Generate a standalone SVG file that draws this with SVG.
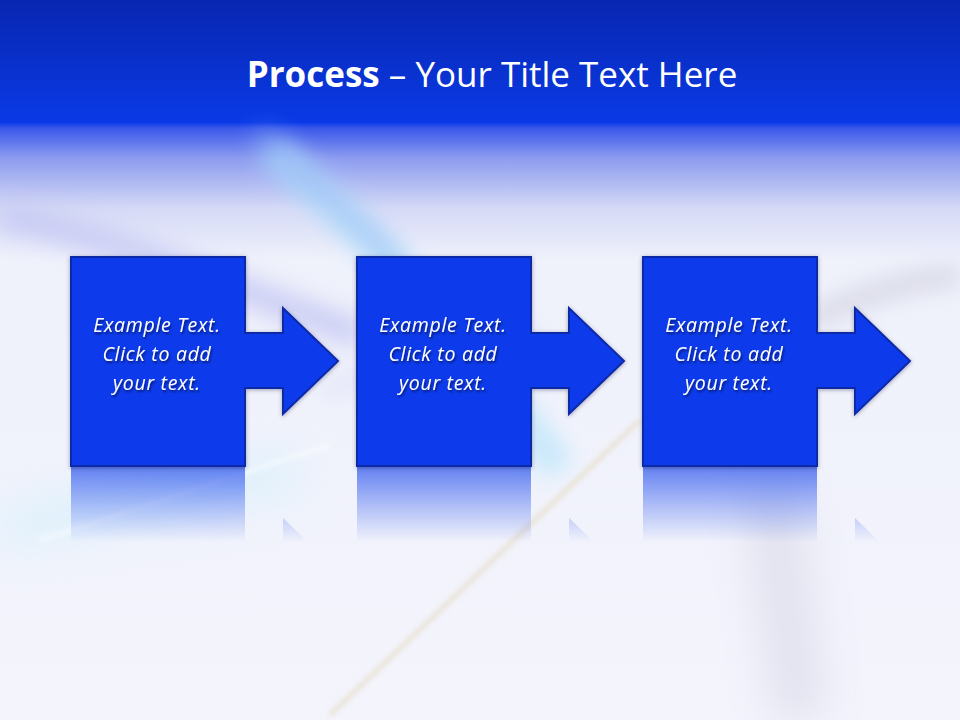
<svg xmlns="http://www.w3.org/2000/svg" width="960" height="720" viewBox="0 0 960 720">
<defs>
<style>
.title{font-family:"Open Sans","Liberation Sans",sans-serif;font-size:35px;fill:#ffffff}
.lbl{font-family:"Open Sans","Liberation Sans",sans-serif;font-size:19.5px;letter-spacing:0.7px;font-style:italic;fill:#ffffff;text-anchor:middle;filter:url(#tsh)}
.shape{fill:#0a3aec;stroke:#0a2aa6;stroke-width:2;stroke-linejoin:miter}
.refl{fill:#0a3aec}
</style>
<linearGradient id="bg" x1="0" y1="0" x2="0" y2="1">
<stop offset="0" stop-color="#0826b0"/>
<stop offset="0.17" stop-color="#0a3ae6"/>
<stop offset="0.178" stop-color="#3a58ea"/>
<stop offset="0.22" stop-color="#8d9cef"/>
<stop offset="0.29" stop-color="#d6daf6"/>
<stop offset="0.36" stop-color="#eff1fb"/>
<stop offset="1" stop-color="#f3f4fc"/>
</linearGradient>
<filter id="blur20" filterUnits="userSpaceOnUse" x="-100" y="-100" width="1160" height="920"><feGaussianBlur stdDeviation="22"/></filter>
<filter id="blur10" filterUnits="userSpaceOnUse" x="-100" y="-100" width="1160" height="920"><feGaussianBlur stdDeviation="11"/></filter>
<filter id="blur3" filterUnits="userSpaceOnUse" x="-100" y="-100" width="1160" height="920"><feGaussianBlur stdDeviation="2.5"/></filter>
<filter id="tsh" x="-20%" y="-30%" width="140%" height="170%"><feDropShadow dx="1.2" dy="2" stdDeviation="1.3" flood-color="#000020" flood-opacity="0.6"/></filter>
<filter id="bsh" x="-10%" y="-10%" width="120%" height="120%"><feDropShadow dx="0" dy="1" stdDeviation="2" flood-color="#000040" flood-opacity="0.35"/></filter>
<linearGradient id="rg" gradientUnits="userSpaceOnUse" x1="0" y1="466" x2="0" y2="542">
<stop offset="0" stop-color="#fff" stop-opacity="0.62"/>
<stop offset="0.5" stop-color="#fff" stop-opacity="0.3"/>
<stop offset="1" stop-color="#fff" stop-opacity="0"/>
</linearGradient>
<mask id="rm" maskUnits="userSpaceOnUse" x="0" y="0" width="960" height="720">
<rect x="0" y="466" width="960" height="80" fill="url(#rg)"/>
</mask>
</defs>

<g id="background">
<rect x="0" y="0" width="960" height="720" fill="url(#bg)"/>
<path d="M270 150 C340 210 440 300 560 470" stroke="#b4e4fb" stroke-width="34" fill="none" opacity="0.65" filter="url(#blur10)"/>
<path d="M255 135 C300 170 350 215 400 265" stroke="#8fb4f4" stroke-width="24" fill="none" opacity="0.45" filter="url(#blur10)"/>
<path d="M0 215 C120 240 230 285 360 335" stroke="#c3c6f3" stroke-width="30" fill="none" opacity="0.75" filter="url(#blur10)"/>
<path d="M0 530 C100 505 200 490 300 470" stroke="#d3f0fc" stroke-width="40" fill="none" opacity="0.7" filter="url(#blur20)"/>
<path d="M40 540 C150 505 250 470 330 445" stroke="#ffffff" stroke-width="3" fill="none" opacity="0.7" filter="url(#blur3)"/>
<path d="M330 715 L640 420" stroke="#e6dcc6" stroke-width="5" fill="none" opacity="0.7" filter="url(#blur3)"/>
<path d="M810 320 C860 295 910 280 960 275" stroke="#b0b0c2" stroke-width="22" fill="none" opacity="0.35" filter="url(#blur10)"/>
<path d="M770 490 C780 560 790 640 800 720" stroke="#c8c9da" stroke-width="50" fill="none" opacity="0.45" filter="url(#blur20)"/>
<path d="M320 390 C400 370 450 355 540 335" stroke="#d9dbf5" stroke-width="20" fill="none" opacity="0.5" filter="url(#blur10)"/>
</g>

<text class="title" x="492" y="87" text-anchor="middle"><tspan font-weight="bold">Process</tspan> – Your Title Text Here</text>

<g id="reflections" mask="url(#rm)">
<path class="refl" transform="translate(0 932) scale(1 -1)" d="M71 257 H245 V333 H283 V308 L338 361 L283 414 V388 H245 V466 H71 Z"/>
<path class="refl" transform="translate(0 932) scale(1 -1)" d="M357 257 H531 V333 H569 V308 L624 361 L569 414 V388 H531 V466 H357 Z"/>
<path class="refl" transform="translate(0 932) scale(1 -1)" d="M643 257 H817 V333 H855 V308 L910 361 L855 414 V388 H817 V466 H643 Z"/>
</g>

<g id="connectors"></g>

<g id="node1">
<path class="shape" filter="url(#bsh)" d="M71 257 H245 V333 H283 V308 L338 361 L283 414 V388 H245 V466 H71 Z"/>
<text class="lbl" x="157" y="332">Example Text.</text>
<text class="lbl" x="157" y="361">Click to add</text>
<text class="lbl" x="157" y="390">your text.</text>
</g>
<g id="node2">
<path class="shape" filter="url(#bsh)" d="M357 257 H531 V333 H569 V308 L624 361 L569 414 V388 H531 V466 H357 Z"/>
<text class="lbl" x="443" y="332">Example Text.</text>
<text class="lbl" x="443" y="361">Click to add</text>
<text class="lbl" x="443" y="390">your text.</text>
</g>
<g id="node3">
<path class="shape" filter="url(#bsh)" d="M643 257 H817 V333 H855 V308 L910 361 L855 414 V388 H817 V466 H643 Z"/>
<text class="lbl" x="729" y="332">Example Text.</text>
<text class="lbl" x="729" y="361">Click to add</text>
<text class="lbl" x="729" y="390">your text.</text>
</g>
</svg>
